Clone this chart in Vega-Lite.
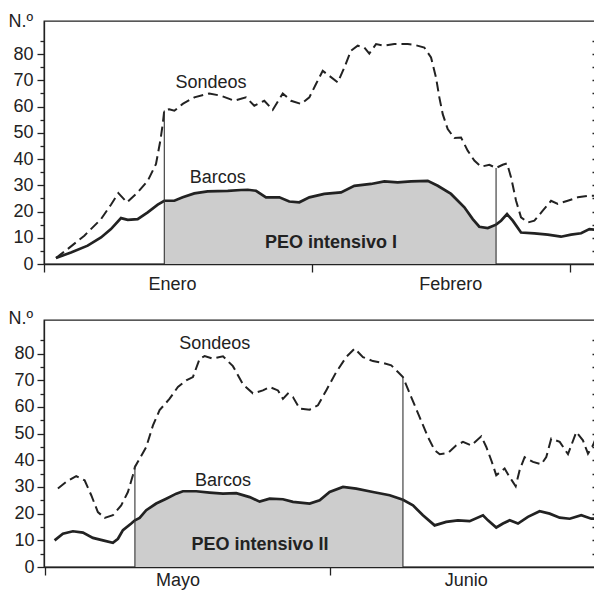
{
  "$schema": "https://vega.github.io/schema/vega-lite/v6.json",
  "background": "white",
  "padding": {"left": 7, "top": 11, "right": 0, "bottom": 0},
  "config": {
    "view": {"stroke": "#222", "strokeWidth": 1.3},
    "font": "Liberation Sans",
    "axis": {
      "labelFont": "Liberation Sans", "titleFont": "Liberation Sans",
      "labelFontSize": 18, "titleFontSize": 18, "titleFontWeight": "normal",
      "labelColor": "#222", "titleColor": "#222", "domainColor": "#222", "tickColor": "#222",
      "domainWidth": 1.3, "tickWidth": 1.3, "grid": false,
      "labelOverlap": false, "labelFlush": false
    },
    "text": {"font": "Liberation Sans", "fontSize": 18, "color": "#222"}
  },
  "datasets": {
    "top_sondeos": [
      {"d":3.30,"n":2.3},{"d":4.57,"n":5.7},{"d":6.38,"n":10.8},{"d":8.19,"n":17.1},{"d":9.27,"n":22.6},{"d":10.07,"n":27.0},{"d":11.01,"n":23.5},{"d":12.17,"n":27.3},{"d":13.26,"n":31.7},{"d":14.16,"n":38.1},{"d":14.63,"n":47},{"d":14.89,"n":53.3},{"d":15.06,"n":58.5},{"d":15.60,"n":59},{"d":16.15,"n":58.4},{"d":17.06,"n":61},{"d":18.32,"n":63.5},{"d":19.95,"n":65},{"d":21.22,"n":64.1},{"d":22.66,"n":62.2},{"d":23.93,"n":63.5},{"d":24.83,"n":60.3},{"d":25.92,"n":62.2},{"d":26.83,"n":58.7},{"d":27.92,"n":65},{"d":28.82,"n":62.2},{"d":29.90,"n":61},{"d":30.81,"n":63.5},{"d":31.53,"n":68.6},{"d":32.26,"n":73.6},{"d":32.98,"n":71.7},{"d":33.89,"n":69.2},{"d":34.61,"n":74.9},{"d":35.33,"n":81.3},{"d":36.06,"n":83.2},{"d":36.78,"n":82.5},{"d":37.32,"n":80.2},{"d":38.05,"n":83.8},{"d":38.95,"n":83.2},{"d":40.03,"n":83.8},{"d":41.49,"n":83.8},{"d":42.21,"n":83.5},{"d":43.29,"n":82.5},{"d":44.02,"n":78.7},{"d":44.56,"n":71.1},{"d":44.92,"n":63.5},{"d":45.29,"n":57.1},{"d":45.83,"n":51.4},{"d":46.55,"n":48},{"d":47.28,"n":48.2},{"d":48.00,"n":43.2},{"d":48.72,"n":39.4},{"d":49.45,"n":37.1},{"d":50.35,"n":37.8},{"d":51.08,"n":36.6},{"d":51.80,"n":37.8},{"d":52.27,"n":38.3},{"d":52.71,"n":33},{"d":53.25,"n":24.1},{"d":53.79,"n":17.8},{"d":54.52,"n":15.8},{"d":55.24,"n":16.5},{"d":56.15,"n":20.3},{"d":57.05,"n":24.1},{"d":57.78,"n":22.9},{"d":58.86,"n":24.1},{"d":59.95,"n":25.4},{"d":61.03,"n":26},{"d":61.83,"n":26}
    ],
    "top_barcos": [
      {"d":3.30,"n":2.3},{"d":4.93,"n":4.4},{"d":6.74,"n":7},{"d":8.19,"n":10.1},{"d":9.27,"n":13.3},{"d":10.36,"n":17.5},{"d":11.09,"n":16.8},{"d":12.17,"n":17.1},{"d":13.26,"n":19.7},{"d":14.35,"n":22.6},{"d":15.06,"n":24.1},{"d":16.15,"n":24.1},{"d":17.06,"n":25.4},{"d":18.32,"n":26.9},{"d":19.77,"n":27.7},{"d":21.95,"n":27.9},{"d":23.39,"n":28.2},{"d":24.12,"n":28.3},{"d":25.02,"n":27.9},{"d":26.10,"n":25.4},{"d":27.55,"n":25.4},{"d":28.63,"n":23.8},{"d":29.72,"n":23.5},{"d":30.81,"n":25.4},{"d":32.43,"n":26.7},{"d":34.25,"n":27.3},{"d":35.69,"n":29.8},{"d":37.50,"n":30.5},{"d":38.95,"n":31.5},{"d":40.40,"n":31.1},{"d":41.85,"n":31.5},{"d":43.66,"n":31.7},{"d":44.75,"n":29.8},{"d":46.19,"n":26.7},{"d":47.64,"n":21.6},{"d":48.55,"n":17.1},{"d":49.26,"n":14.2},{"d":50.18,"n":13.7},{"d":51.08,"n":15},{"d":51.62,"n":16.5},{"d":52.27,"n":19},{"d":52.89,"n":16.5},{"d":53.79,"n":12},{"d":55.24,"n":11.7},{"d":56.69,"n":11.2},{"d":58.13,"n":10.4},{"d":59.22,"n":11.2},{"d":60.31,"n":11.7},{"d":61.21,"n":13.3},{"d":61.83,"n":13}
    ],
    "top_peo": [{"d":15.06,"n":58.5},{"d":51.08,"n":36.6}],
    "top_labels": [{"d":20.13,"n":67.2,"label":"Sondeos"},{"d":20.86,"n":30.7,"label":"Barcos"}],
    "top_zone": [{"d":33.16,"n":6.2,"label":"PEO intensivo I"}],
    "bot_sondeos": [
      {"d":1.41,"n":29.4},{"d":2.31,"n":31.9},{"d":3.40,"n":34.1},{"d":4.31,"n":32.5},{"d":5.03,"n":26.9},{"d":5.75,"n":20.6},{"d":6.48,"n":18.4},{"d":7.38,"n":19.4},{"d":8.28,"n":23.1},{"d":9.01,"n":28.1},{"d":9.55,"n":34.4},{"d":9.77,"n":37.5},{"d":10.28,"n":40.6},{"d":11.00,"n":45},{"d":11.73,"n":53.1},{"d":12.45,"n":58.8},{"d":13.54,"n":63.1},{"d":14.44,"n":67.5},{"d":15.34,"n":70},{"d":16.07,"n":71.2},{"d":16.80,"n":78.1},{"d":17.34,"n":79.1},{"d":18.24,"n":78.1},{"d":19.33,"n":79},{"d":20.41,"n":75.3},{"d":21.50,"n":68.5},{"d":22.58,"n":65.1},{"d":23.67,"n":66.2},{"d":24.40,"n":67.5},{"d":25.30,"n":66.2},{"d":25.84,"n":63},{"d":26.38,"n":65},{"d":26.93,"n":63.7},{"d":27.65,"n":59.4},{"d":28.74,"n":59},{"d":29.64,"n":60.6},{"d":30.54,"n":66.2},{"d":31.63,"n":73.1},{"d":32.71,"n":78.7},{"d":33.63,"n":81.9},{"d":34.53,"n":78.7},{"d":35.61,"n":77.2},{"d":36.70,"n":76.5},{"d":37.60,"n":75.6},{"d":38.33,"n":73.1},{"d":38.87,"n":71.2},{"d":39.77,"n":63.7},{"d":40.68,"n":56.2},{"d":41.59,"n":48.7},{"d":42.31,"n":43.8},{"d":42.86,"n":42.3},{"d":43.76,"n":42.7},{"d":44.66,"n":45.6},{"d":45.39,"n":46.9},{"d":46.29,"n":45.6},{"d":47.37,"n":49},{"d":47.92,"n":45},{"d":48.46,"n":40},{"d":49.00,"n":34.4},{"d":49.91,"n":36.9},{"d":50.46,"n":33.7},{"d":51.11,"n":30.3},{"d":51.54,"n":36.3},{"d":52.08,"n":41.2},{"d":52.99,"n":39.4},{"d":53.89,"n":38.5},{"d":54.43,"n":41.2},{"d":54.97,"n":48.1},{"d":55.89,"n":46.9},{"d":56.79,"n":42.3},{"d":57.69,"n":50.6},{"d":58.41,"n":47.5},{"d":58.96,"n":42.5},{"d":59.50,"n":45.6},{"d":59.93,"n":49.4}
    ],
    "bot_barcos": [
      {"d":1.05,"n":10},{"d":1.95,"n":12.5},{"d":3.04,"n":13.4},{"d":4.13,"n":12.9},{"d":5.21,"n":10.9},{"d":6.30,"n":10},{"d":7.38,"n":9.1},{"d":7.93,"n":10.6},{"d":8.47,"n":13.8},{"d":9.37,"n":16.3},{"d":9.77,"n":17.5},{"d":10.28,"n":18.4},{"d":11.00,"n":21.3},{"d":12.08,"n":23.8},{"d":13.17,"n":25.6},{"d":14.26,"n":27.5},{"d":14.98,"n":28.4},{"d":16.43,"n":28.4},{"d":17.88,"n":27.9},{"d":19.33,"n":27.5},{"d":20.77,"n":27.7},{"d":22.23,"n":26.2},{"d":23.31,"n":24.5},{"d":24.40,"n":25.6},{"d":25.84,"n":25.4},{"d":26.93,"n":24.4},{"d":28.74,"n":23.8},{"d":29.83,"n":25},{"d":30.91,"n":28.1},{"d":32.36,"n":30},{"d":33.80,"n":29.4},{"d":35.61,"n":28.1},{"d":37.43,"n":26.9},{"d":38.87,"n":25.2},{"d":39.96,"n":23.1},{"d":41.04,"n":19.4},{"d":42.31,"n":15.6},{"d":43.57,"n":16.9},{"d":44.84,"n":17.5},{"d":46.11,"n":17.2},{"d":47.56,"n":19.4},{"d":48.10,"n":17.5},{"d":49.00,"n":14.8},{"d":49.73,"n":16.3},{"d":50.46,"n":17.5},{"d":51.36,"n":16.3},{"d":52.44,"n":18.8},{"d":53.71,"n":20.9},{"d":54.80,"n":20},{"d":55.89,"n":18.5},{"d":56.98,"n":18.1},{"d":58.23,"n":19.4},{"d":59.32,"n":18.1},{"d":59.93,"n":18.1}
    ],
    "bot_peo": [{"d":9.77,"n":38},{"d":38.87,"n":71.2}],
    "bot_labels": [{"d":18.43,"n":81.9,"label":"Sondeos"},{"d":19.33,"n":30.4,"label":"Barcos"}],
    "bot_zone": [{"d":23.34,"n":6.3,"label":"PEO intensivo II"}]
  },
  "vconcat": [
    {
      "width": 552, "height": 243,
      "resolve": {"axis": {"x": "independent", "y": "independent"}},
      "layer": [
        {
          "data": {"name": "top_barcos"},
          "transform": [{"filter": "datum.d >= 15.06 && datum.d <= 51.08"}],
          "mark": {"type": "area", "color": "#cdcdcd", "opacity": 1},
          "encoding": {
            "x": {"field": "d", "type": "quantitative", "scale": {"domain": [2, 61.93], "nice": false, "zero": false},
              "axis": {"orient": "bottom", "title": null, "values": [2, 15.9, 31.1, 46.1, 59.1],
                "labelExpr": "datum.value == 15.9 ? 'Enero' : datum.value == 46.1 ? 'Febrero' : ''",
                "tickSize": 8, "labelPadding": 3,
                "tickOpacity": {"condition": {"test": "datum.value == 15.9 || datum.value == 46.1", "value": 0}, "value": 1}}},
            "y": {"field": "n", "type": "quantitative", "scale": {"domain": [0, 92.6], "nice": false},
              "axis": {"orient": "left", "values": [0, 5, 10, 15, 20, 25, 30, 35, 40, 45, 50, 55, 60, 65, 70, 75, 80, 85],
                "labelExpr": "datum.value % 10 == 0 ? datum.label : ''",
                "tickSize": {"condition": {"test": "datum.value % 10 == 0", "value": 7}, "value": 4},
                "labelPadding": 4,
                "title": "N.º", "titleAngle": 0, "titleAlign": "left", "titleBaseline": "alphabetic", "titleX": -36, "titleY": 5}}
          }
        },
        {
          "data": {"name": "top_sondeos"},
          "mark": {"type": "line", "color": "#222", "strokeWidth": 2, "strokeDash": [10, 5]},
          "encoding": {
            "x": {"field": "d", "type": "quantitative", "scale": {"domain": [2, 61.93], "nice": false, "zero": false}, "axis": null},
            "y": {"field": "n", "type": "quantitative", "scale": {"domain": [0, 92.6], "nice": false}, "axis": null}
          }
        },
        {
          "data": {"name": "top_barcos"},
          "mark": {"type": "line", "color": "#222", "strokeWidth": 2.7},
          "encoding": {
            "x": {"field": "d", "type": "quantitative", "scale": {"domain": [2, 61.93], "nice": false, "zero": false}, "axis": null},
            "y": {"field": "n", "type": "quantitative", "scale": {"domain": [0, 92.6], "nice": false},
              "axis": {"orient": "right", "title": null, "labels": false, "domain": false, "tickSize": 4, "offset": -4, "values": [5, 10, 15, 20, 25, 30, 35, 40, 45, 50, 55, 60, 65, 70, 75, 80, 85]}}
          }
        },
        {
          "data": {"name": "top_peo"},
          "mark": {"type": "rule", "color": "#333", "strokeWidth": 1.1},
          "encoding": {
            "x": {"field": "d", "type": "quantitative", "scale": {"domain": [2, 61.93], "nice": false, "zero": false}, "axis": null},
            "y": {"field": "n", "type": "quantitative", "scale": {"domain": [0, 92.6], "nice": false}, "axis": null},
            "y2": {"datum": 0}
          }
        },
        {
          "data": {"name": "top_labels"},
          "mark": {"type": "text", "align": "center", "baseline": "alphabetic"},
          "encoding": {
            "x": {"field": "d", "type": "quantitative", "scale": {"domain": [2, 61.93], "nice": false, "zero": false}, "axis": null},
            "y": {"field": "n", "type": "quantitative", "scale": {"domain": [0, 92.6], "nice": false}, "axis": null},
            "text": {"field": "label"}
          }
        },
        {
          "data": {"name": "top_zone"},
          "mark": {"type": "text", "align": "center", "baseline": "alphabetic", "fontWeight": "bold"},
          "encoding": {
            "x": {"field": "d", "type": "quantitative", "scale": {"domain": [2, 61.93], "nice": false, "zero": false}, "axis": null},
            "y": {"field": "n", "type": "quantitative", "scale": {"domain": [0, 92.6], "nice": false}, "axis": null},
            "text": {"field": "label"}
          }
        }
      ]
    },
    {
      "width": 552, "height": 247,
      "resolve": {"axis": {"x": "independent", "y": "independent"}},
      "layer": [
        {
          "data": {"name": "bot_barcos"},
          "transform": [{"filter": "datum.d >= 9.77 && datum.d <= 38.87"}],
          "mark": {"type": "area", "color": "#cdcdcd", "opacity": 1},
          "encoding": {
            "x": {"field": "d", "type": "quantitative", "scale": {"domain": [-0.1, 59.83], "nice": false, "zero": false},
              "axis": {"orient": "bottom", "title": null, "values": [0, 14.4, 31, 45.7],
                "labelExpr": "datum.value == 14.4 ? 'Mayo' : datum.value == 45.7 ? 'Junio' : ''",
                "tickSize": 8, "labelPadding": -4,
                "tickOpacity": {"condition": {"test": "datum.value == 14.4 || datum.value == 45.7", "value": 0}, "value": 1}}},
            "y": {"field": "n", "type": "quantitative", "scale": {"domain": [0, 92.6], "nice": false},
              "axis": {"orient": "left", "values": [0, 5, 10, 15, 20, 25, 30, 35, 40, 45, 50, 55, 60, 65, 70, 75, 80, 85],
                "labelExpr": "datum.value % 10 == 0 ? datum.label : ''",
                "tickSize": {"condition": {"test": "datum.value % 10 == 0", "value": 7}, "value": 4},
                "labelPadding": 3,
                "title": "N.º", "titleAngle": 0, "titleAlign": "left", "titleBaseline": "alphabetic", "titleX": -36, "titleY": 3}}
          }
        },
        {
          "data": {"name": "bot_sondeos"},
          "mark": {"type": "line", "color": "#222", "strokeWidth": 2, "strokeDash": [10, 5]},
          "encoding": {
            "x": {"field": "d", "type": "quantitative", "scale": {"domain": [-0.1, 59.83], "nice": false, "zero": false}, "axis": null},
            "y": {"field": "n", "type": "quantitative", "scale": {"domain": [0, 92.6], "nice": false}, "axis": null}
          }
        },
        {
          "data": {"name": "bot_barcos"},
          "mark": {"type": "line", "color": "#222", "strokeWidth": 2.7},
          "encoding": {
            "x": {"field": "d", "type": "quantitative", "scale": {"domain": [-0.1, 59.83], "nice": false, "zero": false}, "axis": null},
            "y": {"field": "n", "type": "quantitative", "scale": {"domain": [0, 92.6], "nice": false},
              "axis": {"orient": "right", "title": null, "labels": false, "domain": false, "tickSize": 4, "offset": -4, "values": [5, 10, 15, 20, 25, 30, 35, 40, 45, 50, 55, 60, 65, 70, 75, 80, 85]}}
          }
        },
        {
          "data": {"name": "bot_peo"},
          "mark": {"type": "rule", "color": "#333", "strokeWidth": 1.1},
          "encoding": {
            "x": {"field": "d", "type": "quantitative", "scale": {"domain": [-0.1, 59.83], "nice": false, "zero": false}, "axis": null},
            "y": {"field": "n", "type": "quantitative", "scale": {"domain": [0, 92.6], "nice": false}, "axis": null},
            "y2": {"datum": 0}
          }
        },
        {
          "data": {"name": "bot_labels"},
          "mark": {"type": "text", "align": "center", "baseline": "alphabetic"},
          "encoding": {
            "x": {"field": "d", "type": "quantitative", "scale": {"domain": [-0.1, 59.83], "nice": false, "zero": false}, "axis": null},
            "y": {"field": "n", "type": "quantitative", "scale": {"domain": [0, 92.6], "nice": false}, "axis": null},
            "text": {"field": "label"}
          }
        },
        {
          "data": {"name": "bot_zone"},
          "mark": {"type": "text", "align": "center", "baseline": "alphabetic", "fontWeight": "bold"},
          "encoding": {
            "x": {"field": "d", "type": "quantitative", "scale": {"domain": [-0.1, 59.83], "nice": false, "zero": false}, "axis": null},
            "y": {"field": "n", "type": "quantitative", "scale": {"domain": [0, 92.6], "nice": false}, "axis": null},
            "text": {"field": "label"}
          }
        }
      ]
    }
  ],
  "bounds": "flush",
  "spacing": 56
}
